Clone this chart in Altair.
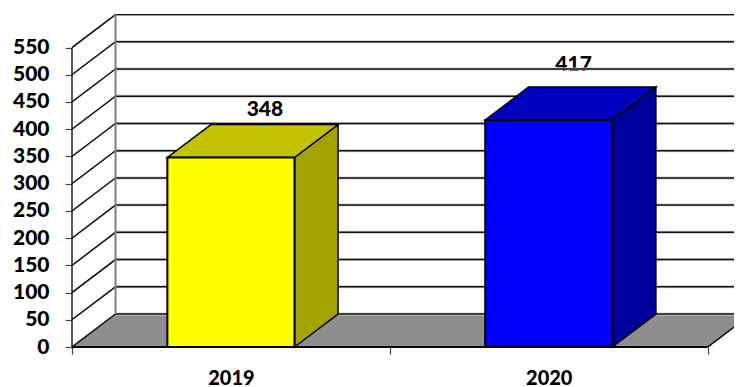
import altair as alt
import pandas as pd

years = ["2019", "2020"]
values = [348, 417]
front_colors = ["#FFFF00", "#0000FF"]
top_colors = ["#C2C200", "#0000C0"]
side_colors = ["#A3A300", "#00009C"]
y_ticks = list(range(0, 551, 50))
x_ticks = [0, 0.5, 1, 1.5, 2]
depth_x = 0.137
depth_y = 60.6
bar_width = 0.4
label_shift_x = [0.107, 0.078]
label_lift = [27, 40]
FONT = "Lato"

x_scale = alt.Scale(domain=[0, 662 / 317.85], nice=False, zero=False)
y_scale = alt.Scale(domain=[0, 611.6], nice=False, zero=False)

label_expr = " : ".join(f"datum.value == {i + 0.5} ? '{y}'" for i, y in enumerate(years)) + " : ''"
x_axis = alt.Axis(values=x_ticks, title=None, domain=False, grid=False, labelExpr=label_expr,
                  labelFont=FONT, labelFontSize=20, labelFontWeight=900, labelColor="#000000",
                  labelPadding=14, labelOverlap=False, labelFlush=False, tickSize=7, tickWidth=1.2, tickColor="#444444",
                  tickOpacity=alt.expr("datum.value % 1 == 0 ? 1 : 0"))
y_axis = alt.Axis(values=y_ticks, title=None, domain=False, grid=False, format="d",
                  labelFont=FONT, labelFontSize=21, labelFontWeight=900, labelColor="#000000",
                  labelPadding=16, labelOverlap=False, tickSize=7, tickWidth=1.2, tickColor="#444444")
X = alt.X("x:Q", scale=x_scale, axis=x_axis)
Y = alt.Y("y:Q", scale=y_scale, axis=y_axis)
Xp = alt.X("x:Q", scale=x_scale, axis=None)
Yp = alt.Y("y:Q", scale=y_scale, axis=None)

# labels sit below the grid; this first layer carries the axes
rows = []
for i, v in enumerate(values):
    rows.append({"x": i + 0.5 + label_shift_x[i], "y": v + depth_y + label_lift[i], "t": str(v)})
labels = alt.Chart(pd.DataFrame(rows)).mark_text(font=FONT, fontSize=21, fontWeight=900, color="#000000").encode(
    x=X, y=Y, text="t:N")

floor = alt.Chart(pd.DataFrame([{"x": 0, "x2": 2, "y": 0}, {"x": depth_x, "x2": 2 + depth_x, "y": depth_y}])).mark_area(
    orient="horizontal", color="#8E8E8E", clip=True).encode(x=Xp, x2="x2:Q", y=Yp)

grid_rows = []
for t in y_ticks:
    grid_rows += [{"x": 0, "y": t, "k": t, "o": 0},
                  {"x": depth_x, "y": t + depth_y, "k": t, "o": 1},
                  {"x": 2 + depth_x, "y": t + depth_y, "k": t, "o": 2}]
grid_df = pd.DataFrame(grid_rows)
grid_halo = alt.Chart(grid_df[grid_df.o > 0]).mark_line(color="#CFCFCF", strokeWidth=3, clip=True).encode(
    x=Xp, y=Yp, detail="k:N", order="o:Q")
grid = alt.Chart(grid_df).mark_line(color="#101010", strokeWidth=1.5, clip=True).encode(
    x=Xp, y=Yp, detail="k:N", order="o:Q")

back_wall = alt.Chart(pd.DataFrame([{"x": depth_x, "y": depth_y, "y2": 550 + depth_y}])).mark_rule(
    color="#808080", strokeWidth=2).encode(x=Xp, y=Yp, y2="y2:Q")
front_wall = alt.Chart(pd.DataFrame([{"x": 0, "y": 0, "y2": 550}])).mark_rule(
    color="#202020", strokeWidth=1.5).encode(x=Xp, y=Yp, y2="y2:Q")
right_diag = alt.Chart(pd.DataFrame([{"x": 2, "y": 0}, {"x": 2 + depth_x, "y": depth_y}])).mark_line(
    color="#000000", strokeWidth=1.5, clip=True).encode(x=Xp, y=Yp)
baseline = alt.Chart(pd.DataFrame([{"x": 0, "x2": 2, "y": 0}])).mark_rule(
    color="#000000", strokeWidth=2).encode(x=Xp, x2="x2:Q", y=Yp)

layers = [labels, floor, grid_halo, grid, back_wall, front_wall, right_diag]
for i, v in enumerate(values):
    x0 = i + 0.5 - bar_width / 2
    x1 = i + 0.5 + bar_width / 2
    side = alt.Chart(pd.DataFrame([{"x": x1, "y": 0, "y2": v}, {"x": x1 + depth_x, "y": depth_y, "y2": v + depth_y}])).mark_area(
        color=side_colors[i], stroke="#000000", strokeWidth=1.5).encode(x=Xp, y=Yp, y2="y2:Q")
    top = alt.Chart(pd.DataFrame([{"x": x0, "x2": x1, "y": v}, {"x": x0 + depth_x, "x2": x1 + depth_x, "y": v + depth_y}])).mark_area(
        orient="horizontal", color=top_colors[i], stroke="#000000", strokeWidth=1.5).encode(x=Xp, x2="x2:Q", y=Yp)
    front = alt.Chart(pd.DataFrame([{"x": x0, "x2": x1, "y": 0, "y2": v}])).mark_rect(
        color=front_colors[i], stroke="#000000", strokeWidth=2).encode(x=Xp, x2="x2:Q", y=Yp, y2="y2:Q")
    layers += [side, top, front]
layers.append(baseline)

chart = alt.layer(*layers).properties(
    width=662, height=333,
    autosize=alt.AutoSizeParams(type="none"),
    padding={"left": 64, "top": 6, "right": 0, "bottom": 40},
    background="#FFFFFF",
).resolve_axis(x="independent", y="independent").configure_view(stroke=None)

chart.save("out.html", embed_options={"renderer": "svg", "actions": False})
